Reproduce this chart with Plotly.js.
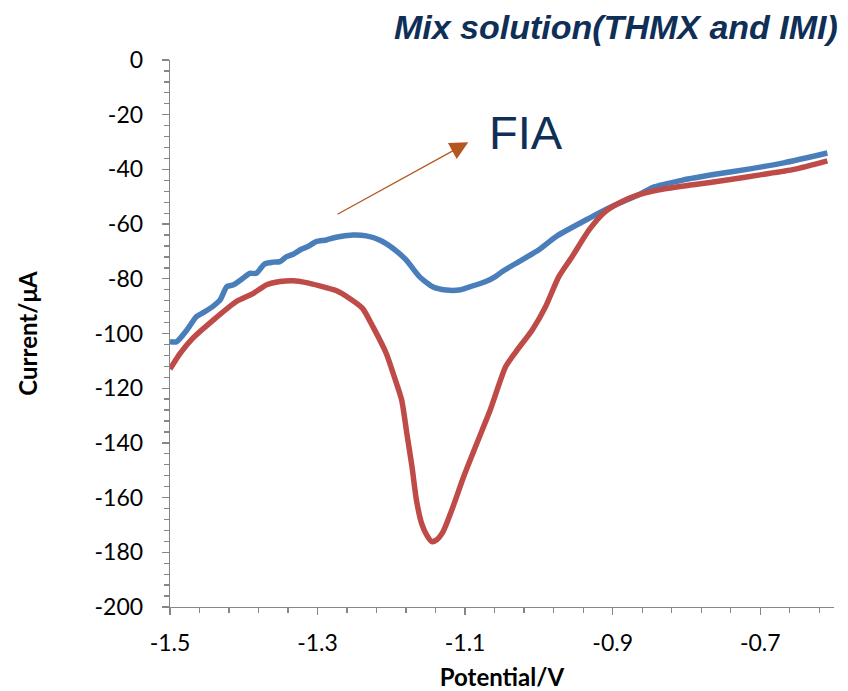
<!DOCTYPE html>
<html>
<head>
<meta charset="utf-8">
<script src="https://cdn.plot.ly/plotly-3.0.1.min.js"></script>
<style>html,body{margin:0;padding:0;background:#fff;}#chart{width:848px;height:691px;}</style>
</head>
<body>
<div id="chart"></div>
<script>
// Blue curve (upper)
const potentialBlue = [-1.5,-1.491,-1.477,-1.464,-1.455,-1.441,-1.432,-1.423,-1.414,-1.401,-1.392,-1.383,-1.372,-1.360,-1.351,-1.342,-1.333,-1.322,-1.313,-1.302,-1.288,-1.275,-1.252,-1.234,-1.216,-1.198,-1.180,-1.162,-1.144,-1.126,-1.108,-1.099,-1.072,-1.059,-1.050,-1.027,-1.0,-0.977,-0.932,-0.901,-0.865,-0.846,-0.805,-0.759,-0.714,-0.668,-0.609];
const currentBlue = [-103,-103,-98.7,-93.8,-92.4,-89.9,-87.7,-82.9,-82.2,-79.8,-78,-78,-74.6,-73.9,-73.7,-71.9,-71,-69.2,-68.2,-66.4,-65.8,-64.8,-64,-64.3,-65.8,-68.8,-73.1,-79.2,-82.9,-84.1,-84.1,-83.4,-81,-79.2,-77.4,-73.7,-69.4,-64.6,-57.9,-53.6,-49.3,-46.6,-43.9,-41.7,-39.8,-37.6,-34.0];
// Red curve (lower, with peak)
const potentialRed = [-1.5,-1.486,-1.469,-1.441,-1.410,-1.387,-1.369,-1.351,-1.333,-1.315,-1.297,-1.275,-1.257,-1.239,-1.225,-1.207,-1.196,-1.186,-1.179,-1.172,-1.166,-1.159,-1.152,-1.145,-1.139,-1.130,-1.118,-1.102,-1.084,-1.066,-1.045,-1.031,-1.009,-0.991,-0.973,-0.955,-0.932,-0.910,-0.883,-0.865,-0.837,-0.791,-0.745,-0.700,-0.654,-0.609];
const currentRed = [-113,-107.2,-101.7,-95,-88.3,-85.3,-82.2,-81,-80.7,-81.4,-82.6,-84.3,-87.1,-90.8,-97.5,-107.2,-115.8,-124.3,-136.5,-148.7,-160.9,-169.4,-173.7,-176.1,-175.5,-172.5,-164.5,-152.4,-140.1,-128.0,-112.1,-106.6,-98.7,-90.2,-79.2,-71.9,-62.1,-55.4,-51.2,-49.3,-47.5,-45.6,-43.9,-42.0,-40.0,-36.9];

const xTickVals = [-1.5,-1.3,-1.1,-0.9,-0.7];
const xTickText = ['-1.5','-1.3','-1.1','-0.9','-0.7'];
const yTickVals = [0,-20,-40,-60,-80,-100,-120,-140,-160,-180,-200];
const yTickText = ['0','-20','-40','-60','-80','-100','-120','-140','-160','-180','-200'];

const chartTitle = 'Mix solution(THMX and IMI)';
const xTitle = 'Potential/V';
const yTitle = 'Current/μA';
const annotationText = 'FIA';

const axisGray = '#868686';
const tickFont = {family: 'Lato, "Open Sans", sans-serif', size: 23, color: '#000'};
const titleFont = {family: 'Lato, "Open Sans", sans-serif', size: 24, color: '#000', weight: 'bold'};

const traces = [
  {x: potentialBlue, y: currentBlue, type: 'scatter', mode: 'lines',
   line: {color: '#4a7ebb', width: 5.5, shape: 'spline', smoothing: 0.6}, hoverinfo: 'skip'},
  {x: potentialRed, y: currentRed, type: 'scatter', mode: 'lines',
   line: {color: '#be4b48', width: 5.5, shape: 'spline', smoothing: 0.6}, hoverinfo: 'skip'}
];

const layout = {
  width: 848, height: 691,
  paper_bgcolor: '#fff', plot_bgcolor: '#fff',
  showlegend: false,
  margin: {l: 170, r: 14, t: 60, b: 84},
  title: {text: chartTitle, xref: 'container', yref: 'container', x: 0.988, xanchor: 'right', y: 0.961, yanchor: 'middle',
          font: {family: '"Liberation Sans", Arial, sans-serif', size: 34, weight: 'bold', style: 'italic', color: '#0f2f57'}},
  xaxis: {
    range: [-1.5, -0.6], tickmode: 'array', tickvals: xTickVals, ticktext: xTickText,
    ticks: 'outside', ticklen: 7, tickwidth: 1.3, tickcolor: axisGray,
    showline: true, linecolor: axisGray, linewidth: 1.3, showgrid: false, zeroline: false,
    minor: {tick0: -1.5, dtick: 0.04, ticks: 'outside', ticklen: 5, tickwidth: 1.3, tickcolor: axisGray, showgrid: false},
    tickfont: tickFont, ticklabelstandoff: 8,
    title: {text: xTitle, font: titleFont, standoff: 15},
    automargin: false, fixedrange: true
  },
  yaxis: {
    range: [-200, 0], tickmode: 'array', tickvals: yTickVals, ticktext: yTickText,
    ticks: 'outside', ticklen: 7, tickwidth: 1.3, tickcolor: axisGray,
    showline: true, linecolor: axisGray, linewidth: 1.3, showgrid: false, zeroline: false,
    minor: {tick0: 0, dtick: 4, ticks: 'outside', ticklen: 5, tickwidth: 1.3, tickcolor: axisGray, showgrid: false},
    tickfont: tickFont, ticklabelstandoff: 14,
    title: {text: yTitle, font: titleFont, standoff: 50},
    automargin: false, fixedrange: true
  },
  annotations: [
    {x: -1.0957, y: -30.1, xref: 'x', yref: 'y', ax: -1.275, ay: -56.7, axref: 'x', ayref: 'y',
     text: '', showarrow: true, arrowhead: 2, arrowsize: 2.8, arrowwidth: 1.3, arrowcolor: '#b5561f', standoff: 0},
    {x: -1.0175, y: -26.6, xref: 'x', yref: 'y', text: annotationText, showarrow: false,
     xanchor: 'center', yanchor: 'middle',
     font: {family: '"Liberation Sans", Arial, sans-serif', size: 47, color: '#0f2f57'}}
  ]
};

Plotly.newPlot('chart', traces, layout, {staticPlot: true, displayModeBar: false});
</script>
</body>
</html>
